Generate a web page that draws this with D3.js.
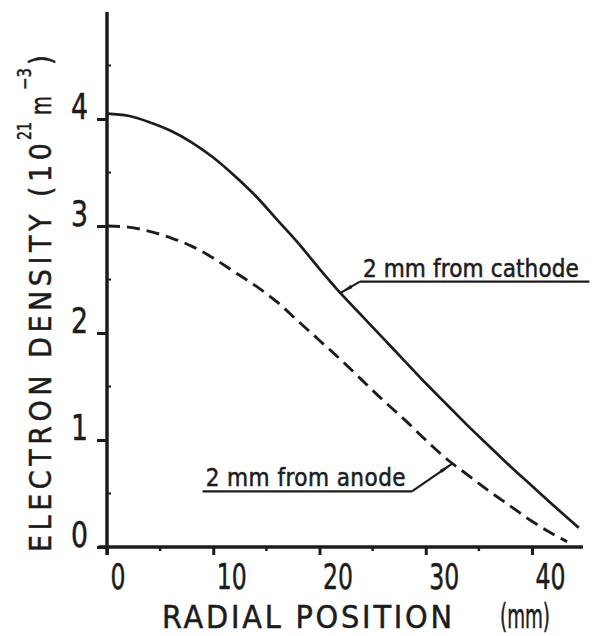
<!DOCTYPE html>
<html>
<head>
<meta charset="utf-8">
<script src="https://cdn.jsdelivr.net/npm/d3@7"></script>
<style>
  body { margin: 0; background: #fff; }
  svg { display: block; }
</style>
</head>
<body>
<div id="chart"></div>
<script>
// ---- data ----
const xTicks = [0, 10, 20, 30, 40]
const xMinor = [5, 15, 25, 35]
const yTicks = [0, 1, 2, 3, 4]
const yMinor = [0.5, 1.5, 2.5, 3.5, 4.5]

// 2 mm from cathode (solid)
const cathodeR = [0, 2, 4, 6, 8, 10, 12, 14, 16, 18, 20, 22, 24, 26, 28, 30, 32, 34, 36, 38, 40, 42, 44.4]
const cathodeN = [4.05, 4.03, 3.97, 3.89, 3.78, 3.64, 3.47, 3.28, 3.06, 2.84, 2.6, 2.37, 2.16, 1.95, 1.74, 1.53, 1.33, 1.13, 0.94, 0.75, 0.57, 0.39, 0.18]

// 2 mm from anode (dashed)
const anodeR = [0, 2, 4, 6, 8, 10, 12, 14, 16, 18, 20, 22, 24, 26, 28, 30, 32, 34, 36, 38, 40, 42, 43.3]
const anodeN = [3.0, 2.99, 2.95, 2.89, 2.81, 2.7, 2.57, 2.44, 2.29, 2.11, 1.93, 1.75, 1.56, 1.37, 1.19, 1.0, 0.82, 0.67, 0.52, 0.38, 0.24, 0.12, 0.05]

// leader annotations: underline span and level, arrow tip (data units)
const cathodeNote = { text: '2 mm from cathode', x0: 23.8, x1: 45.4, y: 2.48, tipX: 21.9, tipY: 2.37 }
const anodeNote = { text: '2 mm from anode', x0: 9.0, x1: 28.7, y: 0.52, tipX: 32.5, tipY: 0.78 }

// ---- layout ----
const W = 592, H = 636
const FONT = '"DejaVu Sans Condensed","DejaVu Sans",sans-serif'
const INK = '#1c1c1c'

const x = d3.scaleLinear().domain([0, 44.8]).range([107, 583])
const y = d3.scaleLinear().domain([0, 5]).range([547, 12])

const svg = d3.select('#chart').append('svg')
  .attr('width', W).attr('height', H)
  .attr('viewBox', `0 0 ${W} ${H}`)

svg.append('defs').append('marker')
  .attr('id', 'arrow')
  .attr('viewBox', '0 0 14 6')
  .attr('refX', 14).attr('refY', 3)
  .attr('markerWidth', 14).attr('markerHeight', 6)
  .attr('markerUnits', 'userSpaceOnUse')
  .attr('orient', 'auto')
  .append('path')
  .attr('d', 'M0,1.2 L14,3 L0,4.8 Z')
  .attr('fill', INK)

// text is drawn a touch heavier, like the pen lettering of the original
const ink = sel => sel.attr('fill', INK).attr('stroke', INK).attr('stroke-width', 0.5).attr('font-family', FONT)

// ---- axes ----
const xAxis = d3.axisBottom(x).tickValues(xTicks).tickSize(8).tickFormat(d3.format('d'))
const yAxis = d3.axisLeft(y).tickValues(yTicks).tickSize(10).tickFormat(d3.format('d'))

svg.append('g')
  .attr('transform', `translate(0,${y(0)})`)
  .call(xAxis)
  .call(g => {
    g.select('.domain').remove()
    g.selectAll('.tick line').attr('stroke', INK).attr('stroke-width', 3)
    g.selectAll('.tick text').call(ink)
      .attr('font-size', 36)
      .attr('text-anchor', 'start')
      .attr('x', 3).attr('y', 42).attr('dy', 0)
      .attr('textLength', d => String(d).length * 15)
      .attr('lengthAdjust', 'spacingAndGlyphs')
  })

svg.append('g')
  .attr('transform', `translate(${x(0)},0)`)
  .call(yAxis)
  .call(g => {
    g.select('.domain').remove()
    g.selectAll('.tick line').attr('stroke', INK).attr('stroke-width', 3)
    g.selectAll('.tick text').call(ink)
      .attr('font-size', 35)
      .attr('x', -19).attr('y', -1).attr('dy', 0)
      .attr('textLength', 17)
      .attr('lengthAdjust', 'spacingAndGlyphs')
  })

// minor ticks
svg.append('g').selectAll('line').data(xMinor).join('line')
  .attr('x1', d => x(d)).attr('x2', d => x(d))
  .attr('y1', y(0)).attr('y2', y(0) + 4)
  .attr('stroke', INK).attr('stroke-width', 2.5)

svg.append('g').selectAll('line').data(yMinor).join('line')
  .attr('x1', x(0)).attr('x2', x(0) + 4)
  .attr('y1', d => y(d)).attr('y2', d => y(d))
  .attr('stroke', INK).attr('stroke-width', 2)

// axis lines
svg.append('line')
  .attr('x1', x(-0.8)).attr('x2', x(44.8))
  .attr('y1', y(0)).attr('y2', y(0))
  .attr('stroke', INK).attr('stroke-width', 3.5)

svg.append('line')
  .attr('x1', x(0)).attr('x2', x(0))
  .attr('y1', y(5)).attr('y2', y(0) + 8)
  .attr('stroke', INK).attr('stroke-width', 3.5)

// ---- curves ----
const line = d3.line().x(d => x(d[0])).y(d => y(d[1])).curve(d3.curveMonotoneX)

svg.append('path')
  .datum(d3.zip(cathodeR, cathodeN))
  .attr('d', line)
  .attr('fill', 'none').attr('stroke', INK).attr('stroke-width', 2.7)

svg.append('path')
  .datum(d3.zip(anodeR, anodeN))
  .attr('d', line)
  .attr('fill', 'none').attr('stroke', INK).attr('stroke-width', 2.9)
  .attr('stroke-dasharray', '13,7')

// ---- annotations ----
function note(n, width) {
  const g = svg.append('g')
  g.append('text').call(ink)
    .attr('x', x(n.x0) + 3).attr('y', y(n.y) - 5)
    .attr('font-size', 24)
    .attr('textLength', width).attr('lengthAdjust', 'spacing')
    .text(n.text)
  g.append('line')
    .attr('x1', x(n.x0)).attr('x2', x(n.x1))
    .attr('y1', y(n.y)).attr('y2', y(n.y))
    .attr('stroke', INK).attr('stroke-width', 2.4)
  return g
}

note(cathodeNote, 216).append('line')
  .attr('x1', x(cathodeNote.x0)).attr('y1', y(cathodeNote.y))
  .attr('x2', x(cathodeNote.tipX)).attr('y2', y(cathodeNote.tipY))
  .attr('stroke', INK).attr('stroke-width', 2.2)
  .attr('marker-end', 'url(#arrow)')

// anode underline runs left from the leader, so the leader starts at its right end
note(anodeNote, 200).append('line')
  .attr('x1', x(anodeNote.x1)).attr('y1', y(anodeNote.y))
  .attr('x2', x(anodeNote.tipX)).attr('y2', y(anodeNote.tipY))
  .attr('stroke', INK).attr('stroke-width', 2.2)
  .attr('marker-end', 'url(#arrow)')

// ---- axis titles ----
svg.append('text').call(ink)
  .attr('x', 162).attr('y', 628)
  .attr('font-size', 32)
  .attr('textLength', 290).attr('lengthAdjust', 'spacing')
  .text('RADIAL POSITION')

svg.append('text').call(ink)
  .attr('x', 500).attr('y', 628)
  .attr('font-size', 33)
  .attr('textLength', 50).attr('lengthAdjust', 'spacingAndGlyphs')
  .text('(mm)')

const yTitle = svg.append('g').attr('transform', 'translate(51,552) rotate(-90)')
const yTitleParts = [
  { t: 'ELECTRON DENSITY (10', at: 0, len: 409, size: 30, rise: 0 },
  { t: '21', at: 412, len: 18, size: 19, rise: -20 },
  { t: 'm', at: 437, len: 19, size: 29, rise: 0 },
  { t: '\u22123', at: 462, len: 22, size: 19, rise: -20 },
  { t: ')', at: 487, len: 10, size: 30, rise: 0 }
]
yTitle.selectAll('text').data(yTitleParts).join('text').call(ink)
  .attr('x', d => d.at).attr('y', d => d.rise)
  .attr('font-size', d => d.size)
  .attr('textLength', d => d.len).attr('lengthAdjust', d => d.len > 100 ? 'spacing' : 'spacingAndGlyphs')
  .text(d => d.t)
</script>
</body>
</html>
